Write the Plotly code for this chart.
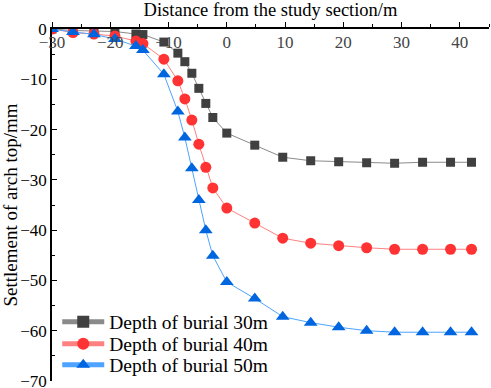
import plotly.graph_objects as go

x_left = [-30, -26.4, -22.8, -19.2, -15.6, -14.4, -10.8, -8.4, -7.2, -6.0, -4.8, -3.6, -2.4, 0]
x_right = [4.8, 9.6, 14.4, 19.2, 24.0, 28.8, 33.6, 38.4, 42.0]
distance = x_left + x_right

depth30 = [0, -0.3, -0.4, -0.5, -1.0, -1.1, -2.6, -4.8, -6.5, -8.8, -11.8, -14.8, -17.6, -20.7,
           -23.1, -25.5, -26.2, -26.4, -26.6, -26.7, -26.5, -26.5, -26.5]
depth40 = [0, -0.7, -1.0, -1.4, -2.4, -2.9, -6.0, -10.3, -13.9, -18.1, -22.9, -27.5, -31.6, -35.6,
           -38.6, -41.6, -42.6, -43.1, -43.5, -43.8, -43.8, -43.8, -43.8]
depth50 = [0, -0.6, -1.05, -2.0, -3.4, -4.2, -9.0, -16.4, -21.6, -27.7, -34.0, -40.0, -45.1, -50.3,
           -53.6, -57.2, -58.4, -59.3, -60.0, -60.3, -60.3, -60.3, -60.3]

series = [
    ("Depth of burial 30m", depth30, "#8a8a8a", "#404040", "square", 9, "legend"),
    ("Depth of burial 40m", depth40, "#ff8080", "#ff3333", "circle", 11, "legend2"),
    ("Depth of burial 50m", depth50, "#4da3ff", "#0066e0", "triangle-up", 12, "legend3"),
]

fig = go.Figure()
for name, ys, lc, mc, sym, sz, lg in series:
    fig.add_trace(go.Scatter(
        x=distance, y=ys, name=name, mode="lines+markers", legend=lg,
        line=dict(color=lc, width=1),
        marker=dict(symbol=sym, size=sz, color=mc, line=dict(width=0)),
    ))

font = "Liberation Serif, Times New Roman, serif"
leg_common = dict(x=0.012, xanchor="left", yanchor="middle", itemwidth=42,
                  font=dict(size=19.5, family=font), bgcolor="rgba(0,0,0,0)",
                  itemsizing="constant")
fig.update_layout(
    width=491, height=388,
    margin=dict(l=52, r=2, t=29, b=7, autoexpand=False),
    paper_bgcolor="white", plot_bgcolor="white",
    font=dict(family=font, size=17, color="black"),
    showlegend=True,
    title=dict(text="Distance from the study section/m", font=dict(size=18.5),
               xref="paper", x=0.5, xanchor="center",
               yref="container", y=1 - 9.5 / 388, yanchor="middle"),
    legend=dict(y=0.1676, **leg_common),
    legend2=dict(y=0.105, **leg_common),
    legend3=dict(y=0.0455, **leg_common),
    xaxis=dict(
        side="top", range=[-30, 45], dtick=10, tick0=0, automargin=False,
        showgrid=False, zeroline=False,
        showline=True, linecolor="black", linewidth=1.5,
        ticks="outside", ticklen=5, tickwidth=1.2, tickcolor="black",
        ticklabelposition="inside", ticklabeloverflow="allow", ticklabelstandoff=8,
        minor=dict(dtick=5, ticks="outside", ticklen=3, tickcolor="black", tickwidth=1),
        tickfont=dict(size=17),
    ),
    yaxis=dict(
        range=[-70, 0], dtick=10, automargin=False,
        showgrid=False, zeroline=False,
        showline=True, linecolor="black", linewidth=1.5,
        ticks="inside", ticklen=5, tickwidth=1.2, tickcolor="black",
        ticklabeloverflow="allow",
        minor=dict(dtick=5, ticks="inside", ticklen=3, tickcolor="black", tickwidth=1),
        title=dict(text="Settlement of arch top/mm", font=dict(size=19), standoff=3),
        tickfont=dict(size=17),
    ),
)

fig.write_html("out.html", config={"displayModeBar": False},
               post_script="document.body.style.margin='0';")
